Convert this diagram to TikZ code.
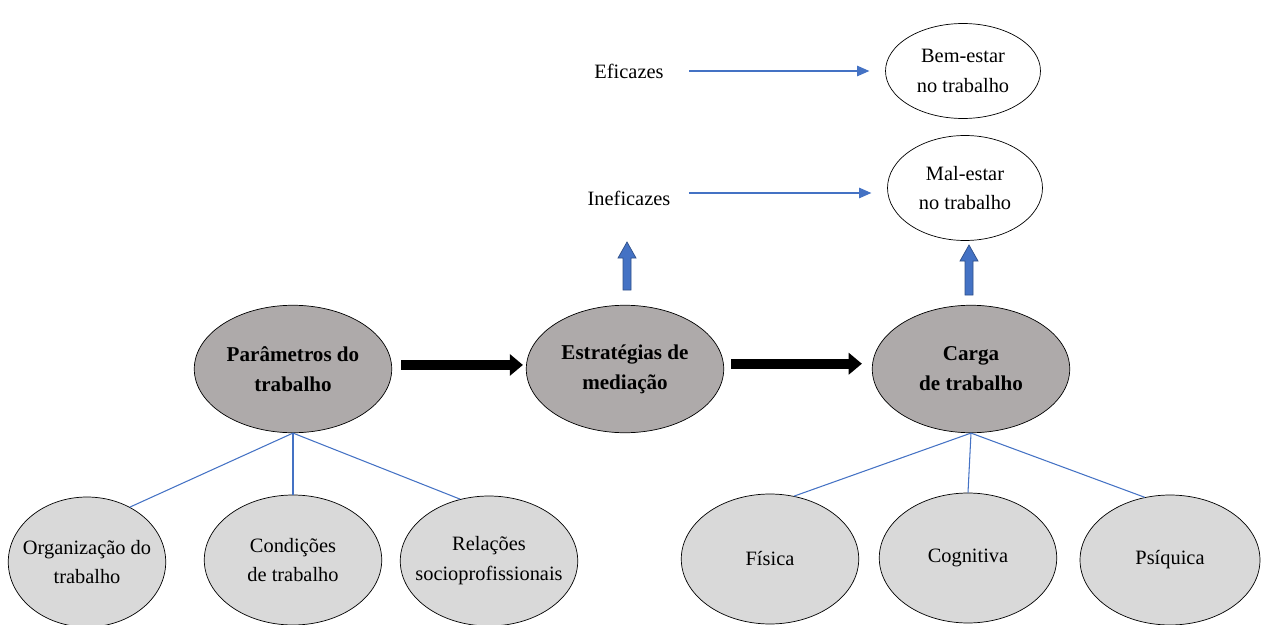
\documentclass[tikz,border=0pt]{standalone}
\usepackage{fontspec}
\setmainfont{Liberation Serif}
\usetikzlibrary{shapes.geometric,arrows.meta}
\definecolor{cinzaesc}{HTML}{AEAAAA}
\definecolor{cinzacla}{HTML}{D9D9D9}
\definecolor{azul}{HTML}{4472C4}
\tikzset{
  texto/.style={font=\fontsize{11.6}{17}\selectfont, align=center},
  elipse/.style={ellipse, draw, inner xsep=-0.8cm, inner ysep=-0.4cm, texto},
  principal/.style={elipse, fill=cinzaesc, minimum width=3.95cm, minimum height=2.55cm, font=\bfseries\fontsize{12}{17}\selectfont},
  fator/.style={elipse, fill=cinzacla, minimum width=3.55cm, minimum height=2.6cm},
  efeito/.style={elipse, fill=white, minimum width=3.1cm},
  ligacao/.style={draw=azul, line width=0.6pt},
  seta/.style={azul, line width=0.6pt, -{Triangle[length=7pt, width=6pt]}},
  setapreta/.style={line width=5.7pt, -{Triangle[length=7.5pt, width=12pt]}},
  setaazul/.style={draw=azul!70!black, line width=0.4pt, fill=azul},
}
\begin{document}
\begin{tikzpicture}[x=0.02cm, y=-0.02cm]
  \useasboundingbox (0,0) rectangle (1265,625);

  % niveis principais
  \node[principal] (par) at (293,369) {Parâmetros do\\trabalho};
  \node[principal] (est) at (625,369) {Estratégias de\\mediação};
  \node[principal] (car) at (971,369) {Carga\\de trabalho};

  % vivencias
  \node[efeito, minimum height=1.9cm] (bem) at (963,71) {Bem-estar\\no trabalho};
  \node[efeito, minimum height=2.1cm] (mal) at (965,188) {Mal-estar\\no trabalho};
  \node[texto] (efi) at (629,71) {Eficazes};
  \node[texto] (ine) at (629,198) {Ineficazes};
  \draw[seta, shorten <=11pt, shorten >=9pt] (efi.east) -- (efi.east -| bem.west);
  \path (ine.east) ++(0,-5) coordinate (i0);
  \draw[seta, shorten <=7pt, shorten >=9pt] (i0) -- (i0 -| mal.west);

  % dimensoes
  \node[fator, minimum width=3.15cm] (org) at (87,562) {Organização do\\trabalho};
  \node[fator] (con) at (293,560) {Condições\\de trabalho};
  \node[fator] (rel) at (489,561) {Relações\\socioprofissionais};
  \node[fator] (fis) at (770,559) {Física};
  \node[fator] (cog) at (968,558) {Cognitiva};
  \node[fator, minimum width=3.6cm] (psi) at (1170,560) {Psíquica};

  \draw[ligacao] (par.south) -- (org.52);
  \draw[ligacao] (par.south) -- (con.north);
  \draw[ligacao] (par.south) -- (rel.115);
  \draw[ligacao] (car.south) -- (fis.69);
  \draw[ligacao] (car.south) -- (cog.north);
  \draw[ligacao] (car.south) -- (psi.112);

  % setas entre niveis
  \draw[setapreta, shorten <=5.2pt, shorten >=1.7pt] ([yshift=2.3pt]par.east) -- ([yshift=2.3pt]est.west);
  \draw[setapreta, shorten <=4pt, shorten >=5.7pt] ([yshift=3pt]est.east) -- ([yshift=3pt]car.west);
  \coordinate (e1) at (627,290);
  \coordinate (c1) at (969,295);
  \draw[setaazul] (e1) ++(-4,0) -- ++(0,-32) -- ++(-5,0) -- ++(9,-16) -- ++(9,16) -- ++(-5,0) -- ++(0,32) -- cycle;
  \draw[setaazul] (c1) ++(-4,0) -- ++(0,-34) -- ++(-5,0) -- ++(9,-16) -- ++(9,16) -- ++(-5,0) -- ++(0,34) -- cycle;
\end{tikzpicture}
\end{document}
